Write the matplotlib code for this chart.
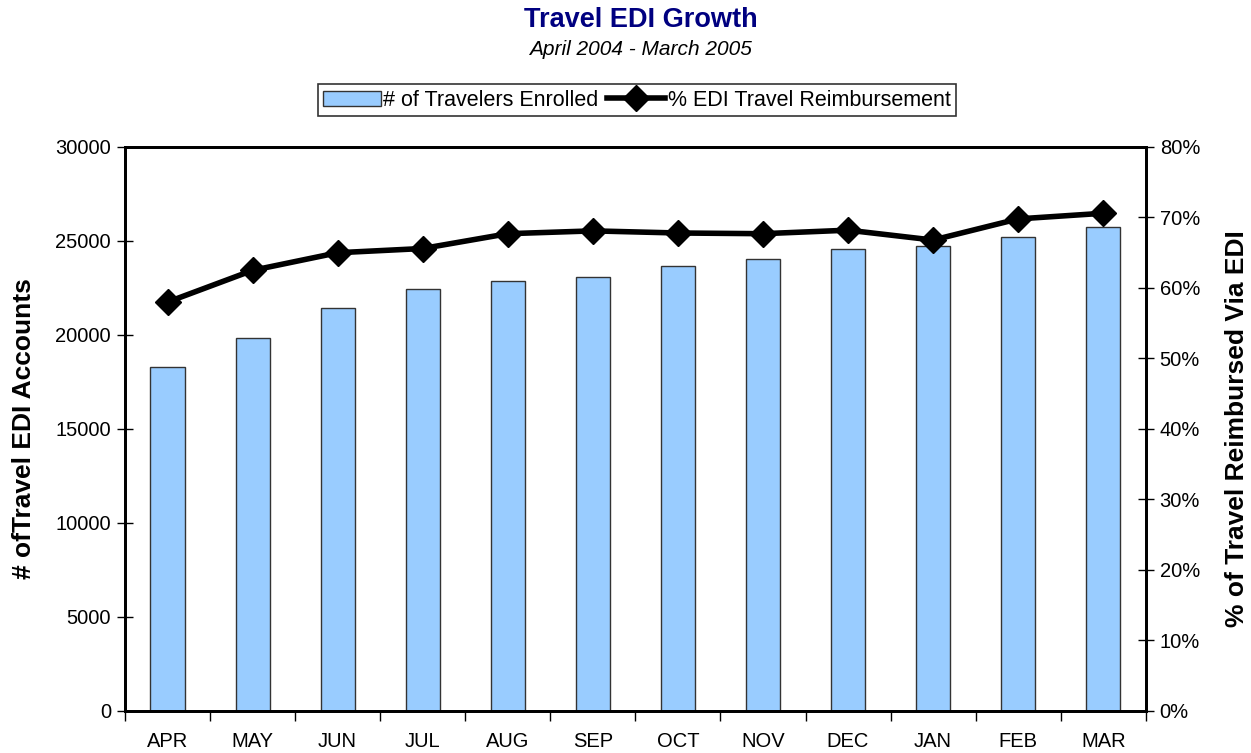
import numpy as np
import matplotlib.pyplot as plt
from matplotlib.ticker import FuncFormatter

months = ["APR", "MAY", "JUN", "JUL", "AUG", "SEP", "OCT", "NOV", "DEC", "JAN", "FEB", "MAR"]
enrolled = [18300, 19840, 21430, 22450, 22870, 23080, 23660, 24040, 24560, 24730, 25210, 25740]
edi_pct = [58.0, 62.5, 65.0, 65.6, 67.7, 68.1, 67.8, 67.7, 68.2, 66.8, 69.8, 70.6]

plt.rcParams['font.family'] = ['Liberation Sans', 'DejaVu Sans']

fig = plt.figure(figsize=(12.51, 7.53), dpi=100)
ax = fig.add_axes([0.0999, 0.0558, 0.816, 0.749])
x = np.arange(len(months))

bars = ax.bar(x, enrolled, width=0.4, color='#99ccff', edgecolor='#333333', linewidth=1.0,
              label='# of Travelers Enrolled', zorder=2)
ax.set_xlim(-0.5, len(months) - 0.5)
ax.set_ylim(0, 30000)
ax.set_yticks(np.arange(0, 30001, 5000))
ax.set_xticks(x)
ax.set_xticklabels(months)
ax.set_xticks(np.arange(-0.5, len(months), 1), minor=True)
ax.tick_params(axis='x', which='major', length=0, labelsize=14.5, pad=15)
ax.tick_params(axis='x', which='minor', length=7, width=1, direction='out')
ax.tick_params(axis='y', length=12, width=1, direction='inout', labelsize=14.5, pad=4)
for s in ax.spines.values():
    s.set_linewidth(2)
ax.set_ylabel('# ofTravel EDI Accounts', fontsize=19, fontweight='bold', labelpad=14)

ax2 = ax.twinx()
line, = ax2.plot(x, edi_pct, color='black', linewidth=4, marker='D', markersize=13,
                 label='% EDI Travel Reimbursement', zorder=3)
ax2.set_ylim(0, 80)
ax2.set_yticks(np.arange(0, 81, 10))
ax2.yaxis.set_major_formatter(FuncFormatter(lambda v, p: f"{v:.0f}%"))
ax2.tick_params(axis='y', length=12, width=1, direction='inout', labelsize=14.5, pad=4)
for s in ax2.spines.values():
    s.set_linewidth(2)
ax2.set_ylabel('% of Travel Reimbursed Via EDI', fontsize=19, fontweight='bold', labelpad=18)

fig.text(0.512, 0.974, 'Travel EDI Growth', ha='center', va='center', fontsize=19.5,
         fontweight='bold', color='#000080')
fig.text(0.512, 0.934, 'April 2004 - March 2005', ha='center', va='center', fontsize=15,
         style='italic')

leg = fig.legend([bars, line], ['# of Travelers Enrolled', '% EDI Travel Reimbursement'],
                 loc='center', bbox_to_anchor=(0.509, 0.867), ncol=2, fontsize=15.5,
                 frameon=True, fancybox=False, edgecolor='black', handlelength=2.7,
                 handletextpad=0.1, columnspacing=0.4, borderpad=0.25)
leg.get_frame().set_linewidth(1.2)

fig.savefig('out.png', dpi=100)
